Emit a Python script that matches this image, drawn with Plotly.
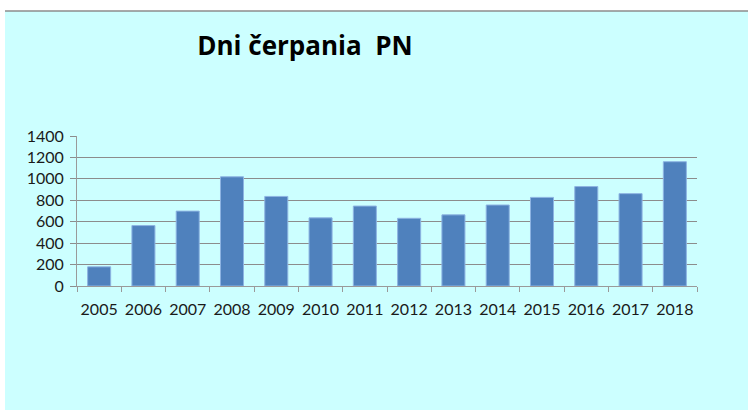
import plotly.graph_objects as go

years = ["2005", "2006", "2007", "2008", "2009", "2010", "2011",
         "2012", "2013", "2014", "2015", "2016", "2017", "2018"]
days = [179, 564, 699, 1019, 836, 636, 746, 632, 664, 756, 827, 928, 862, 1160]
title_text = "Dni čerpania\u00a0\u00a0PN"

W, H = 748, 412
L, R, T, B = 77, 697, 136, 286

fig = go.Figure(go.Bar(
    x=years, y=days,
    marker=dict(color="#4F81BD", line=dict(color="#8DB4E2", width=1)),
))

def px_x(v):
    return (v - L) / (R - L)

def px_y(v):
    return (B - v) / (B - T)

fig.update_layout(
    width=W, height=H,
    margin=dict(l=L, r=W - R, t=T, b=H - B, pad=0),
    paper_bgcolor="white",
    plot_bgcolor="rgba(0,0,0,0)",
    bargap=0.48,
    showlegend=False,
    font=dict(family="Lato, Open Sans, sans-serif", size=16, color="#1a1a1a"),
    title=dict(text=title_text, xref="container", yref="container",
               x=305 / W, y=1 - 46 / H, xanchor="center", yanchor="middle",
               font=dict(family="Open Sans, Lato, sans-serif", size=26, color="black", weight="bold")),
    shapes=[
        dict(type="rect", xref="paper", yref="paper", layer="below",
             x0=px_x(5), x1=px_x(760), y0=px_y(410), y1=px_y(11),
             fillcolor="#CCFFFF", line=dict(width=0)),
        dict(type="line", xref="paper", yref="paper", layer="below",
             x0=px_x(5), x1=px_x(760), y0=px_y(11), y1=px_y(11),
             line=dict(color="#8c8c8c", width=1.5)),
    ],
    xaxis=dict(showline=True, linecolor="#9a9a9a", linewidth=1,
               ticks="outside", ticklen=5, tickcolor="#9a9a9a", tickangle=0,
               tickson="boundaries", showgrid=False, ticklabelstandoff=9),
    yaxis=dict(range=[0, 1400], dtick=200, showline=True, linecolor="#9a9a9a",
               linewidth=1, ticks="outside", ticklen=6, tickcolor="#8c8c8c",
               showgrid=True, gridcolor="#8c8c8c", gridwidth=1, zeroline=False,
               ticklabelstandoff=3),
)

fig.write_html("out.html", config={"displayModeBar": False},
               post_script="document.body.style.margin='0';")
